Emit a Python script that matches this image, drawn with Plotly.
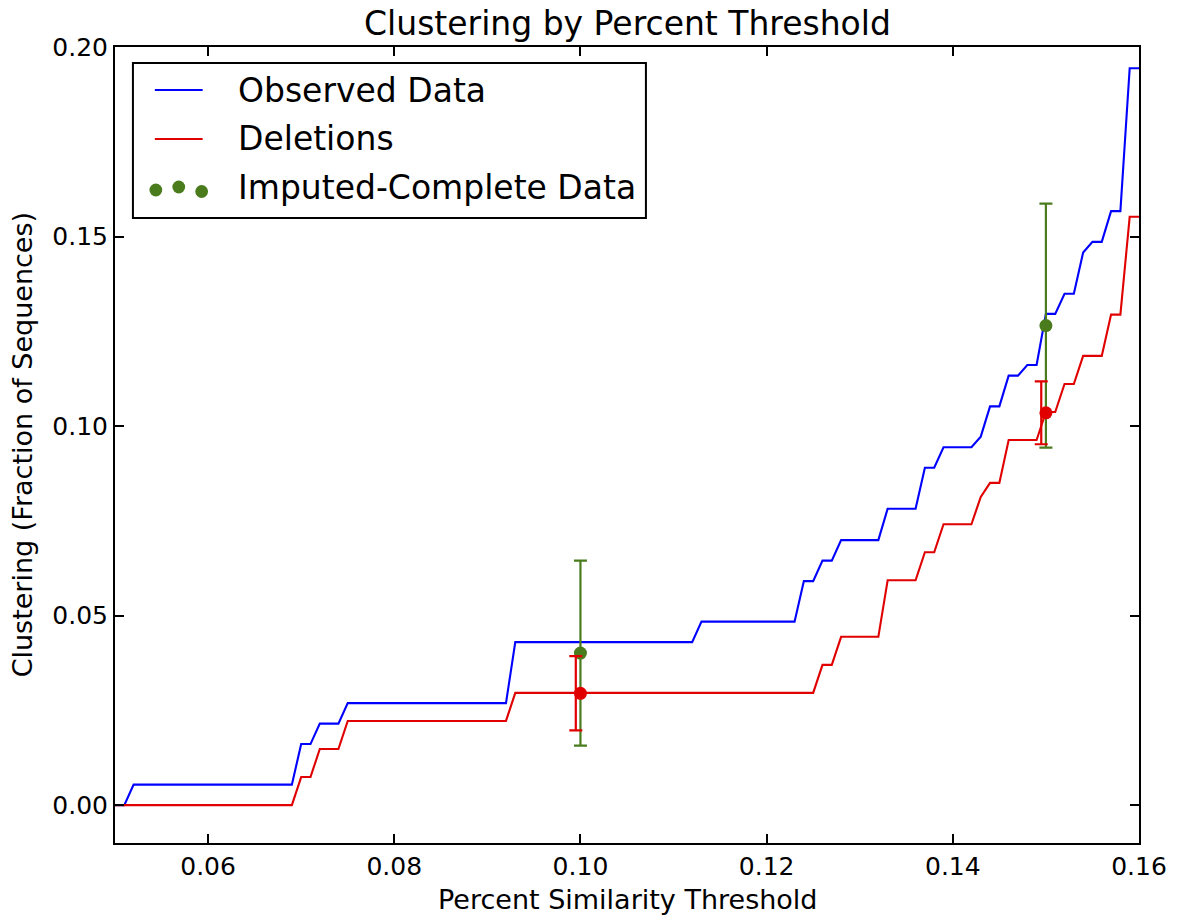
import plotly.graph_objects as go

# ---------------- data ----------------
thresholds = [round(0.050 + 0.001 * i, 3) for i in range(111)]

# step levels: (first x, value) -> value holds until next step
observed_steps = [
    (0.050, 0.0), (0.052, 0.0054), (0.070, 0.0161), (0.072, 0.0215), (0.075, 0.0269),
    (0.093, 0.0430), (0.113, 0.0484), (0.124, 0.0591), (0.126, 0.0645), (0.128, 0.0699),
    (0.133, 0.0782), (0.137, 0.0890), (0.139, 0.0944), (0.143, 0.0972), (0.144, 0.1052),
    (0.146, 0.1133), (0.148, 0.1161), (0.150, 0.1296), (0.152, 0.1349), (0.154, 0.1458),
    (0.155, 0.1486), (0.157, 0.1567), (0.159, 0.1944),
]
deletion_steps = [
    (0.050, 0.0), (0.070, 0.0074), (0.072, 0.0148), (0.075, 0.0222), (0.093, 0.0296),
    (0.126, 0.0370), (0.128, 0.0444), (0.133, 0.0593), (0.137, 0.0667), (0.139, 0.0741),
    (0.143, 0.0813), (0.144, 0.0850), (0.146, 0.0963), (0.150, 0.1037), (0.152, 0.1111),
    (0.154, 0.1185), (0.157, 0.1294), (0.159, 0.1552),
]

imputed_x = [0.10, 0.15]
imputed_y = [0.0401, 0.1265]
imputed_err = [0.0244, 0.0322]

deletion_pt_x = [0.10, 0.15]
deletion_pt_y = [0.0295, 0.1035]
deletion_err_x = [0.0995, 0.1495]
deletion_err = [0.0098, 0.0083]

x_ticks = [0.06, 0.08, 0.10, 0.12, 0.14, 0.16]
y_ticks = [0.00, 0.05, 0.10, 0.15, 0.20]


def expand(steps, xs):
    out = []
    for x in xs:
        v = 0.0
        for sx, sv in steps:
            if x >= sx - 1e-9:
                v = sv
        out.append(v)
    return out


observed = expand(observed_steps, thresholds)
deletions = expand(deletion_steps, thresholds)

BLUE = "#0000ff"
RED = "#e00000"
GREEN = "#4a7c1e"
FONT = "DejaVu Sans"

W, H = 1179, 918
L, R, T, B = 115, 1143, 47, 843

fig = go.Figure()
fig.add_trace(go.Scatter(x=thresholds, y=observed, mode="lines", name="Observed Data",
                         line=dict(color=BLUE, width=2.1), showlegend=False))
fig.add_trace(go.Scatter(x=thresholds, y=deletions, mode="lines", name="Deletions",
                         line=dict(color=RED, width=2.1), showlegend=False))
fig.add_trace(go.Scatter(x=imputed_x, y=imputed_y, mode="markers", name="Imputed-Complete Data",
                         marker=dict(color=GREEN, size=13),
                         error_y=dict(type="data", array=imputed_err, color=GREEN,
                                      thickness=2.2, width=6.5),
                         showlegend=False))
fig.add_trace(go.Scatter(x=deletion_err_x, y=deletion_pt_y, mode="markers", name="Deletions error",
                         marker=dict(color=RED, size=1, opacity=0),
                         error_y=dict(type="data", array=deletion_err, color=RED,
                                      thickness=2.2, width=6.5),
                         showlegend=False))
fig.add_trace(go.Scatter(x=deletion_pt_x, y=deletion_pt_y, mode="markers", name="Deletions imputed",
                         marker=dict(color=RED, size=13), showlegend=False))


def px(xp):
    return (xp - L) / (R - L)


def py(yp):
    return (B - yp) / (B - T)


shapes = []
annotations = []
# legend box
shapes.append(dict(type="rect", xref="paper", yref="paper",
                   x0=px(133), x1=px(648), y0=py(218), y1=py(63),
                   line=dict(color="black", width=2), fillcolor="white", layer="above"))
shapes.append(dict(type="line", xref="paper", yref="paper",
                   x0=px(155), x1=px(203), y0=py(90), y1=py(90),
                   line=dict(color=BLUE, width=2), layer="above"))
shapes.append(dict(type="line", xref="paper", yref="paper",
                   x0=px(155), x1=px(203), y0=py(139), y1=py(139),
                   line=dict(color=RED, width=2), layer="above"))
for cx, cy in [(156, 190), (179, 187), (202, 191.5)]:
    r = 6.4
    shapes.append(dict(type="circle", xref="paper", yref="paper",
                       x0=px(cx - r), x1=px(cx + r), y0=py(cy + r), y1=py(cy - r),
                       line=dict(width=0), fillcolor=GREEN, layer="above"))
for label, yc in [("Observed Data", 90), ("Deletions", 139), ("Imputed-Complete Data", 188)]:
    annotations.append(dict(text=label, xref="paper", yref="paper", x=px(236), y=py(yc),
                            xanchor="left", yanchor="middle", showarrow=False,
                            font=dict(family=FONT, size=33, color="black")))

annotations.append(dict(text="Clustering by Percent Threshold", xref="paper", yref="paper",
                        x=0.5, y=py(23), xanchor="center", yanchor="middle", showarrow=False,
                        font=dict(family=FONT, size=33, color="black")))
annotations.append(dict(text="Percent Similarity Threshold", xref="paper", yref="paper",
                        x=0.5, y=py(899), xanchor="center", yanchor="middle", showarrow=False,
                        font=dict(family=FONT, size=27, color="black")))
annotations.append(dict(text="Clustering (Fraction of Sequences)", xref="paper", yref="paper",
                        x=px(22), y=0.5, xanchor="center", yanchor="middle", showarrow=False,
                        textangle=-90,
                        font=dict(family=FONT, size=27, color="black")))

fig.update_layout(
    width=W, height=H,
    margin=dict(l=L, r=W - R, t=T, b=H - B, pad=0),
    paper_bgcolor="white", plot_bgcolor="white",
    font=dict(family=FONT, color="black"),
    shapes=shapes, annotations=annotations,
    showlegend=False,
)
fig.update_xaxes(range=[0.05, 0.16], tickvals=x_ticks, ticktext=[f"{v:.2f}" for v in x_ticks],
                 showgrid=False, zeroline=False, showline=True, linecolor="black", linewidth=2,
                 mirror="ticks", ticks="inside", ticklen=9, tickwidth=1.5, tickcolor="black",
                 tickfont=dict(family=FONT, size=25, color="black"))
fig.update_yaxes(range=[-0.01, 0.20], tickvals=y_ticks, ticktext=[f"{v:.2f}" for v in y_ticks],
                 showgrid=False, zeroline=False, showline=True, linecolor="black", linewidth=2,
                 mirror="ticks", ticks="inside", ticklen=9, tickwidth=1.5, tickcolor="black",
                 tickfont=dict(family=FONT, size=25, color="black"))

fig.write_html("out.html")
